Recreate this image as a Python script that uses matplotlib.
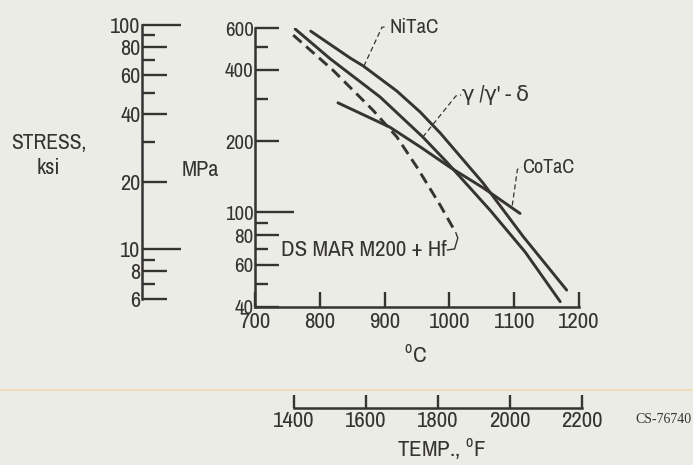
import numpy as np
import matplotlib
matplotlib.use("Agg")
import matplotlib.pyplot as plt
from matplotlib import font_manager
from matplotlib.lines import Line2D
from matplotlib.ticker import FixedLocator, FixedFormatter, NullFormatter

# Curvas (temperatura en C, esfuerzo en MPa)
nitac_t = [786, 847, 867, 919, 955, 986, 1052, 1114, 1181]
nitac_s = [582, 448, 415, 325, 265, 216, 133, 79, 47]
gamma_t = [762, 816, 893, 959, 996, 1063, 1117, 1171]
gamma_s = [594, 445, 307, 208, 163, 102, 68, 42]
cotac_t = [828, 908, 955, 1001, 1052, 1109]
cotac_s = [290, 229, 189, 155, 127, 99]
marm_t = [759, 820, 882, 919, 950, 986, 1010]
marm_s = [560, 399, 270, 208, 155, 107, 82]

# Escalas
mpa_ticks = [40, 60, 80, 100, 200, 400, 600]
mpa_minor = [50, 70, 90, 300, 500]
ksi_ticks = [6, 8, 10, 20, 40, 60, 80, 100]
ksi_minor = [7, 9, 30, 50, 70, 90]
c_ticks = [700, 800, 900, 1000, 1100, 1200]
f_ticks = [1400, 1600, 1800, 2000, 2200]

FONDO = '#ecece6'
TINTA = '#363333'

# Buscamos una fuente angosta, si no hay usamos DejaVu
nombres = {f.name for f in font_manager.fontManager.ttflist}
if 'Archivo Narrow' in nombres:
    FAM, K = 'Archivo Narrow', 1.0
else:
    FAM, K = 'DejaVu Sans', 0.73
FUENTE = [FAM, 'DejaVu Sans']
plt.rcParams['mathtext.fontset'] = 'custom'
plt.rcParams['mathtext.rm'] = FAM
plt.rcParams['font.family'] = FUENTE

W, H = 693, 465


def caja(x0, y0, x1, y1):
    """Convierte pixeles (origen arriba a la izquierda) a fraccion de figura."""
    return [x0 / W, 1 - y1 / H, (x1 - x0) / W, (y1 - y0) / H]


def c2f(c):
    return c * 9 / 5 + 32


def f2c(f):
    return (f - 32) * 5 / 9


def px(p):
    # pixeles a puntos (dpi 100)
    return p * 0.72


fig = plt.figure(figsize=(6.93, 4.65), dpi=100)
fig.patch.set_facecolor(FONDO)

# --- eje principal: MPa vs C ---
ax = fig.add_axes(caja(255, 28, 579, 306.7))
ax.set_facecolor('none')
ax.set_yscale('log')
ax.set_xlim(700, 1200)
ax.set_ylim(40, 600)
for lado in ['top', 'right']:
    ax.spines[lado].set_visible(False)
for lado in ['left', 'bottom']:
    ax.spines[lado].set_color(TINTA)
    ax.spines[lado].set_linewidth(1.8)

ax.yaxis.set_major_locator(FixedLocator(mpa_ticks))
ax.yaxis.set_minor_locator(FixedLocator(mpa_minor))
ax.yaxis.set_major_formatter(FixedFormatter([str(v) for v in mpa_ticks]))
ax.yaxis.set_minor_formatter(NullFormatter())
ax.set_xticks(c_ticks)
ax.set_xticklabels([str(v) for v in c_ticks])
ax.tick_params(axis='y', which='major', direction='in', length=px(24), width=1.7,
               color=TINTA, pad=1.0, labelsize=15 * K, labelcolor=TINTA)
ax.tick_params(axis='y', which='minor', direction='in', length=px(13), width=1.7, color=TINTA)
ax.tick_params(axis='x', which='major', direction='in', length=px(15), width=1.7,
               color=TINTA, pad=3.5, labelsize=16.5 * K, labelcolor=TINTA)
# la marca de 100 MPa es mas larga y rojiza
for valor, tick in zip(mpa_ticks, ax.yaxis.get_major_ticks()):
    if valor == 100:
        tick.tick1line.set_markersize(px(39))
        tick.tick1line.set_color('#7d3434')

# curvas
estilo = dict(color=TINTA, lw=2.1, solid_capstyle='round', solid_joinstyle='round')
ax.plot(nitac_t, nitac_s, **estilo)
ax.plot(gamma_t, gamma_s, **estilo)
ax.plot(cotac_t, cotac_s, **estilo)
ax.plot(marm_t, marm_s, color=TINTA, lw=2.1, dashes=(3.8, 2.1))

# lineas guia y nombres
guia = dict(color=TINTA, lw=0.9, dashes=(4, 2.5), clip_on=False)
ax.plot([868, 896, 905], [414, 605, 605], **guia)
ax.text(907, 605, 'NiTaC', fontsize=15 * K, color=TINTA,
        ha='left', va='center', clip_on=False)
ax.plot([959, 1010, 1018], [208, 310, 313], **guia)
ax.text(1019, 313, "\u03b3 /\u03b3' - \u03b4", fontsize=15.5 * K, color=TINTA,
        ha='left', va='center')
ax.plot([1097, 1105, 1111], [107, 152, 155], **guia)
ax.text(1112, 155, 'CoTaC', fontsize=14.5 * K, color=TINTA,
        ha='left', va='center')
ax.plot([997, 1008, 1013, 1010], [69.4, 70.1, 78, 82], color=TINTA, lw=1.0)
ax.text(995, 69.4, 'DS MAR M200 + Hf', fontsize=16.5 * K, color=TINTA,
        ha='right', va='center')

# --- eje de ksi a la izquierda ---
ak = fig.add_axes(caja(141.7, 25, 200, 299))
ak.set_facecolor('none')
ak.set_yscale('log')
ak.set_ylim(6, 100)
for lado in ['top', 'right', 'bottom']:
    ak.spines[lado].set_visible(False)
ak.spines['left'].set_color(TINTA)
ak.spines['left'].set_linewidth(1.8)
ak.set_xticks([])
ak.yaxis.set_major_locator(FixedLocator(ksi_ticks))
ak.yaxis.set_minor_locator(FixedLocator(ksi_minor))
ak.yaxis.set_major_formatter(FixedFormatter([str(v) for v in ksi_ticks]))
ak.yaxis.set_minor_formatter(NullFormatter())
ak.tick_params(axis='y', which='major', direction='in', length=px(25), width=1.7,
               color=TINTA, pad=1.0, labelsize=16 * K, labelcolor=TINTA)
ak.tick_params(axis='y', which='minor', direction='in', length=px(13), width=1.7, color=TINTA)
for valor, tick in zip(ksi_ticks, ak.yaxis.get_major_ticks()):
    if valor in (10, 100):
        tick.tick1line.set_markersize(px(39))

# --- eje de F abajo ---
f_max = 2201
ancho_f = 324 * (f2c(f_max) - 700) / 500
af = fig.add_axes(caja(255, 400, 255 + ancho_f, 408))
af.set_facecolor('none')
af.set_xlim(c2f(700), f_max)
af.set_yticks([])
for lado in ['top', 'right', 'left']:
    af.spines[lado].set_visible(False)
af.spines['bottom'].set_bounds(f_ticks[0], f_ticks[-1])
af.spines['bottom'].set_color(TINTA)
af.spines['bottom'].set_linewidth(1.8)
af.set_xticks(f_ticks)
af.set_xticklabels([str(v) for v in f_ticks])
af.tick_params(axis='x', direction='in', length=px(13), width=1.7, color=TINTA,
               pad=2, labelsize=16.5 * K, labelcolor=TINTA)

# --- textos sueltos ---
txt = dict(color=TINTA, ha='center', va='center')
fig.text(49 / W, 1 - 143 / H, 'STRESS,', fontsize=15.5 * K, **txt)
fig.text(48 / W, 1 - 168 / H, 'ksi', fontsize=16 * K, **txt)
fig.text(200 / W, 1 - 170 / H, 'MPa', fontsize=16 * K, **txt)
fig.text(415 / W, 1 - 355 / H, r'$^{\mathrm{o}}$C', fontsize=16.5 * K, **txt)
fig.text(441 / W, 1 - 449 / H, r'TEMP., $^{\mathrm{o}}$F', fontsize=16.5 * K, **txt)
fig.text(663 / W, 1 - 419 / H, 'CS-76740', family='Liberation Serif', fontsize=10,
         color=TINTA, ha='center', va='center')

# raya tenue del escaneo
fig.add_artist(Line2D([0, 1], [1 - 390 / H] * 2, transform=fig.transFigure,
                      color='#f0d8a6', lw=1.2, alpha=0.8))

fig.savefig('out.png', dpi=100, facecolor=FONDO)
